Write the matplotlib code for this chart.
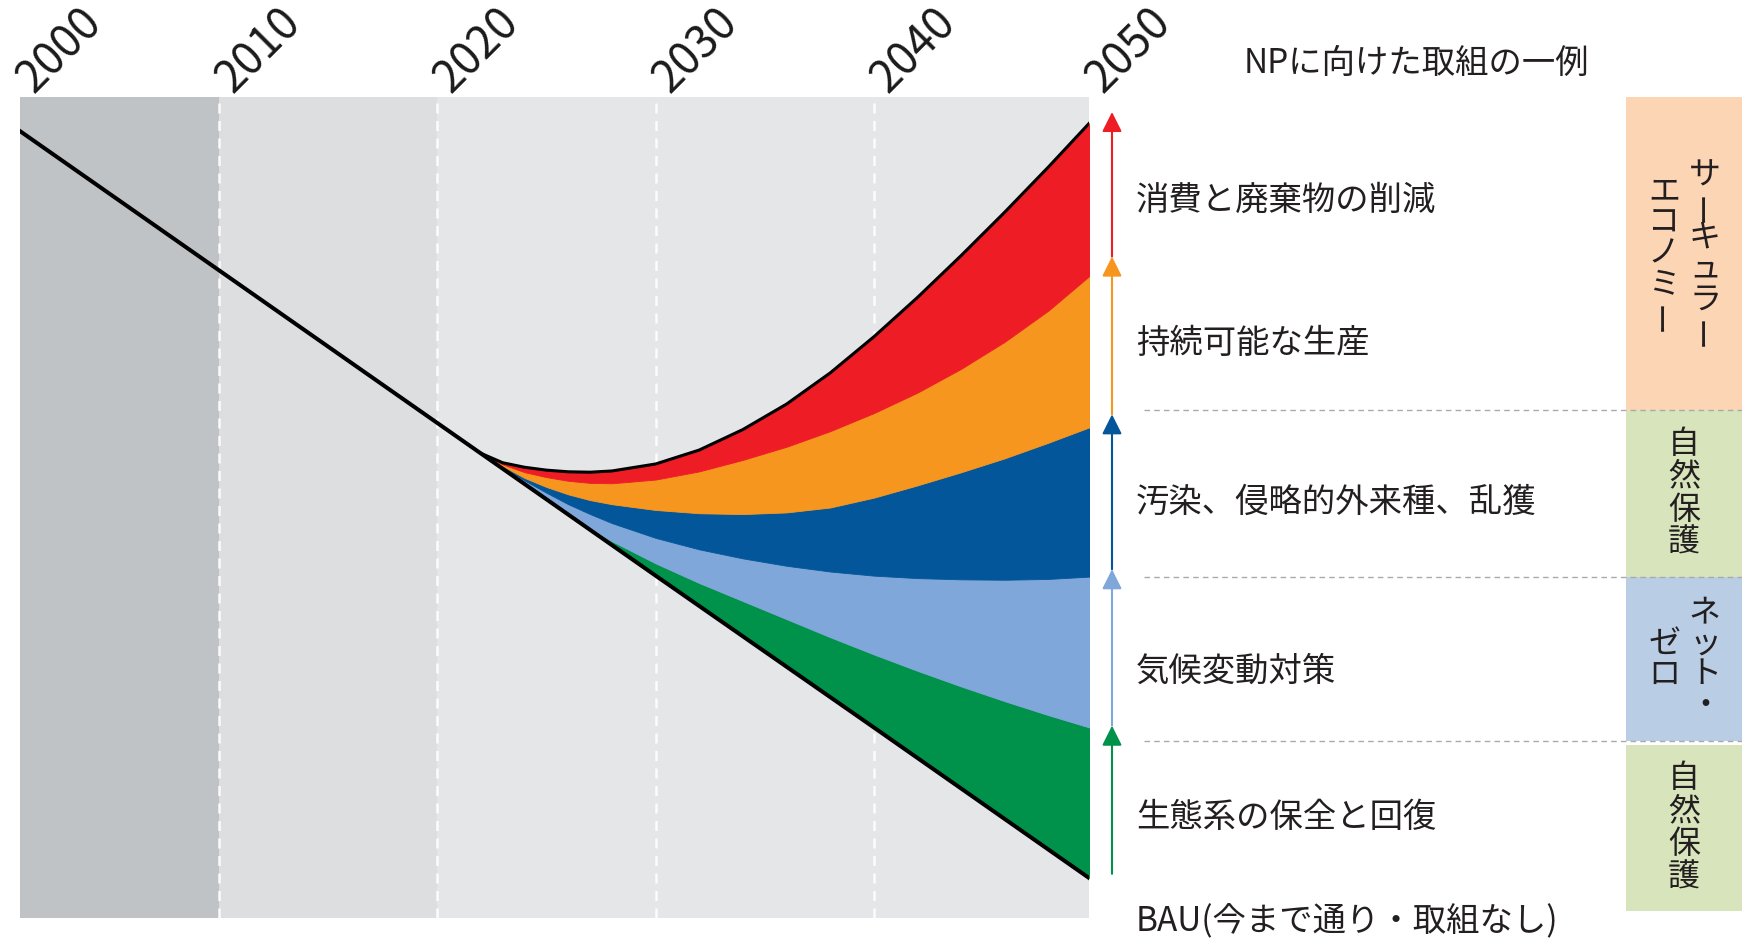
import numpy as np
import matplotlib
matplotlib.use("Agg")
import matplotlib.pyplot as plt
import matplotlib.transforms as mtransforms
from matplotlib.patches import Rectangle
from matplotlib.lines import Line2D

plt.rcParams['font.family'] = ['Noto Sans CJK JP', 'DejaVu Sans']

# ---------------- data ----------------
decade_years = [2000, 2010, 2020, 2030, 2040, 2050]
bau_values = [97.5, 78.9, 60.3, 41.7, 23.2, 4.6]

scen_years = [2022, 2023, 2024, 2025, 2026, 2027, 2028, 2030, 2032, 2034,
              2036, 2038, 2040, 2042, 2044, 2046, 2048, 2050]
# upper boundary of each stacked band (index units)
consumption_top = [56.6, 55.45, 54.9, 54.55, 54.35, 54.3, 54.45, 55.3, 57.0, 59.5,
                   62.6, 66.4, 70.8, 75.6, 80.7, 86.0, 91.5, 97.2]
production_top = [56.6, 55.25, 54.3, 53.7, 53.25, 53.0, 52.95, 53.4, 54.4, 55.8,
                  57.4, 59.3, 61.5, 64.0, 66.9, 70.2, 74.0, 78.5]
pollution_top = [56.6, 55.05, 53.6, 52.5, 51.6, 50.9, 50.4, 49.7, 49.3, 49.2,
                 49.4, 50.0, 51.2, 52.7, 54.3, 56.0, 57.9, 59.9]
climate_top = [56.6, 54.9, 53.3, 51.8, 50.4, 49.2, 48.1, 46.3, 44.9, 43.8,
               42.9, 42.2, 41.7, 41.4, 41.25, 41.2, 41.3, 41.6]
ecosystem_top = [56.6, 54.75, 52.9, 51.0, 49.2, 47.4, 45.9, 43.2, 40.8, 38.6,
                 36.4, 34.2, 32.1, 30.1, 28.2, 26.4, 24.7, 23.1]

band_labels = ["消費と廃棄物の削減", "持続可能な生産", "汚染、侵略的外来種、乱獲",
               "気候変動対策", "生態系の保全と回復"]
bau_label = "BAU(今まで通り・取組なし)"
title_text = "NPに向けた取組の一例"
category_texts = [["サーキュラー", "エコノミー"], ["自然保護"], ["ネット・", "ゼロ"], ["自然保護"]]

# ---------------- style ----------------
RED, ORANGE, BLUE, LBLUE, GREEN = "#ee1c25", "#f6961e", "#03569a", "#7fa7d9", "#00924a"
TXT = "#231f20"
W, H = 1742, 944

def fx(x):
    return x / W

def fy(y):
    return 1 - y / H

fig = plt.figure(figsize=(W / 100, H / 100), dpi=100)
fig.patch.set_facecolor("white")

ax = fig.add_axes([fx(20), fy(918), (1089 - 20) / W, (918 - 97) / H])
xlim = (2000.89, 2049.85)
ax.set_xlim(*xlim)
ax.set_ylim(0, 100)
ax.axis("off")

# background columns
ax.axvspan(xlim[0], 2010, color="#c0c3c6", lw=0, zorder=0)
ax.axvspan(2010, 2020, color="#dcdee0", lw=0, zorder=0)
ax.axvspan(2020, xlim[1], color="#e4e6e8", lw=0, zorder=0)
for yr in decade_years[1:-1]:
    ax.axvline(yr, color="white", lw=1.8, ls=(0, (4, 3)), alpha=0.9, zorder=1)

# bands
yrs = np.array(scen_years, dtype=float)
bau_s = np.interp(yrs, decade_years, bau_values)
layers = [
    (bau_s, ecosystem_top, GREEN),
    (ecosystem_top, climate_top, LBLUE),
    (climate_top, pollution_top, BLUE),
    (pollution_top, production_top, ORANGE),
    (production_top, consumption_top, RED),
]
for lo, hi, c in layers:
    ax.fill_between(yrs, lo, hi, color=c, ec=c, lw=0.6, zorder=2)

ax.plot(decade_years, bau_values, color="black", lw=2.9, zorder=4,
        solid_capstyle="butt")
ax.plot(scen_years, consumption_top, color="black", lw=2.2, zorder=4,
        solid_joinstyle="round")

# year labels
blend_top = mtransforms.blended_transform_factory(ax.transData, ax.transAxes)
for yr in decade_years:
    xa = min(max(yr, xlim[0]), xlim[1])
    ax.annotate(str(yr), xy=(xa, 1.0), xycoords=blend_top, xytext=(14, 2),
                textcoords="offset pixels", rotation=45, rotation_mode="anchor",
                ha="left", va="baseline", fontsize=32, color="#1a1a1a",
                annotation_clip=False)

# arrows at the right end
blend_right = mtransforms.blended_transform_factory(ax.transAxes, ax.transData)
ax_arrow = (1112 - 20) / (1089 - 20)
edge = lambda arr: float(np.interp(xlim[1], scen_years, arr))
tops = [edge(consumption_top), edge(production_top), edge(pollution_top),
        edge(climate_top), edge(ecosystem_top)]
bau_edge = float(np.interp(xlim[1], decade_years, bau_values))
colors = [RED, ORANGE, BLUE, LBLUE, GREEN]
offsets = [1.4, 2.4, 1.6, 0.9, 0.2]
tips = [t + o for t, o in zip(tops, offsets)]
bases = tips[1:] + [bau_edge + 0.5]
for t, b, c in zip(tips, bases, colors):
    ax.annotate("", xy=(ax_arrow, t), xytext=(ax_arrow, b),
                xycoords=blend_right, textcoords=blend_right,
                arrowprops=dict(arrowstyle="-|>,head_length=0.4,head_width=0.2",
                                color=c, lw=1.5, mutation_scale=30,
                                shrinkA=0, shrinkB=0),
                annotation_clip=False)

# labels
label_y = [200, 344, 502, 671, 817]
for txt, y in zip(band_labels, label_y):
    fig.text(fx(1136), fy(y), txt, ha="left", va="center", fontsize=24, color=TXT)
fig.text(fx(1136), fy(922), bau_label, ha="left", va="center", fontsize=24, color=TXT)
fig.text(fx(1244), fy(63), title_text, ha="left", va="center", fontsize=24, color=TXT)

# separators
for y in [410, 577, 741]:
    fig.add_artist(Line2D([fx(1144), fx(1742)], [fy(y), fy(y)], color="#aaaaaa",
                          lw=1.0, ls=(0, (4, 3)), transform=fig.transFigure))

# category boxes
boxes = [(97, 410, "#fcd5b5"), (410, 577, "#d8e4bc"), (577, 741, "#b9cde5"),
         (745, 911, "#d8e4bc")]
for (y0, y1, c) in boxes:
    fig.add_artist(Rectangle((fx(1626), fy(y1)), fx(1742) - fx(1626), (y1 - y0) / H,
                             transform=fig.transFigure, color=c, lw=0, zorder=0))

def vertical(col_x, center_y, text, pitch, size=23):
    n = len(text)
    y0 = center_y - (n - 1) / 2 * pitch
    for i, ch in enumerate(text):
        y = y0 + i * pitch
        rot = 90 if ch == "ー" else 0
        fig.text(fx(col_x), fy(y), ch, rotation=rot, ha="center",
                 va="center", fontsize=size, color=TXT)

centers = [253, 493, 659, 828]
for texts, cy in zip(category_texts, centers):
    if len(texts) == 2:
        vertical(1705, cy, texts[0], 31)
        vertical(1664, cy, texts[1], 31)
    else:
        vertical(1684, cy, texts[0], 33)

fig.savefig("out.png", dpi=100)
